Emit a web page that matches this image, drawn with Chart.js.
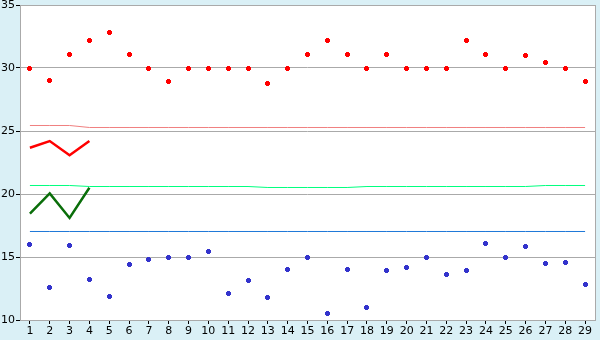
<!DOCTYPE html>
<html>
<head>
<meta charset="utf-8">
<script src="https://cdn.jsdelivr.net/npm/chart.js@4"></script>
<style>
  body { margin: 0; background: #daf0f6; }
  #wrap { width: 600px; height: 340px; }
</style>
</head>
<body>
<div id="wrap"><canvas id="chart" width="600" height="340"></canvas></div>
<script>
// Data
const categories = ['1','2','3','4','5','6','7','8','9','10','11','12','13','14','15','16','17','18','19','20','21','22','23','24','25','26','27','28','29'];
const yTicks = [10, 15, 20, 25, 30, 35];

const redPoints = [30.0, 29.0, 31.1, 32.2, 32.8, 31.1, 30.0, 28.9, 30.0, 30.0, 30.0, 30.0, 28.8, 30.0, 31.1, 32.2, 31.1, 30.0, 31.1, 30.0, 30.0, 30.0, 32.2, 31.1, 30.0, 31.0, 30.45, 30.0, 28.9];
const bluePoints = [16.0, 12.6, 15.93, 13.23, 11.88, 14.42, 14.81, 15.0, 15.0, 15.45, 12.12, 13.15, 11.8, 14.02, 15.0, 10.53, 14.02, 11.0, 13.94, 14.18, 15.0, 13.62, 13.94, 16.08, 15.0, 15.85, 14.5, 14.58, 12.83];

const upperLine = [25.437, 25.437, 25.437, 25.278, 25.278, 25.278, 25.278, 25.278, 25.278, 25.278, 25.278, 25.278, 25.278, 25.278, 25.278, 25.278, 25.278, 25.278, 25.278, 25.278, 25.278, 25.278, 25.278, 25.278, 25.278, 25.278, 25.278, 25.278, 25.278];
const middleLine = [20.675, 20.675, 20.675, 20.595, 20.595, 20.595, 20.595, 20.595, 20.595, 20.595, 20.595, 20.595, 20.516, 20.516, 20.516, 20.516, 20.516, 20.595, 20.595, 20.595, 20.595, 20.595, 20.595, 20.595, 20.595, 20.595, 20.675, 20.675, 20.675];
const lowerLine = [17.024, 17.024, 17.024, 17.024, 17.024, 17.024, 17.024, 17.024, 17.024, 17.024, 17.024, 17.024, 17.024, 17.024, 17.024, 17.024, 17.024, 17.024, 17.024, 17.024, 17.024, 17.024, 17.024, 17.024, 17.024, 17.024, 17.024, 17.024, 17.024];

const redTrend = [23.67, 24.2, 23.07, 24.2];
const greenTrend = [18.44, 20.05, 18.1, 20.5];

// small fat-plus marker, 5x5 with the corners cut
function makeMarker(color) {
    const c = document.createElement('canvas');
    c.width = 5;
    c.height = 5;
    const g = c.getContext('2d');
    g.fillStyle = color;
    g.fillRect(1, 0, 3, 5);
    g.fillRect(0, 1, 5, 3);
    return c;
}

// white plot area + grey frame
const plotFrame = {
    id: 'plotFrame',
    beforeDraw(chart) {
        const a = chart.chartArea;
        const ctx = chart.ctx;
        ctx.save();
        ctx.fillStyle = '#ffffff';
        ctx.fillRect(a.left, a.top, a.right - a.left, a.bottom - a.top);
        ctx.restore();
    },
    beforeDatasetsDraw(chart) {
        chart.ctx.imageSmoothingEnabled = false;
    },
    afterDatasetsDraw(chart) {
        const a = chart.chartArea;
        const ctx = chart.ctx;
        ctx.save();
        ctx.strokeStyle = '#aaaaaa';
        ctx.lineWidth = 1;
        ctx.strokeRect(a.left + 0.5, a.top + 0.5, a.right - a.left, a.bottom - a.top);
        ctx.restore();
    }
};

function flatLine(data, color, width) {
    return {
        type: 'line',
        data: data,
        borderColor: color,
        borderWidth: width,
        pointRadius: 0,
        tension: 0,
        fill: false
    };
}

function dots(data, color) {
    return {
        type: 'line',
        data: data,
        showLine: false,
        pointStyle: makeMarker(color),
        pointRadius: 3
    };
}

new Chart(document.getElementById('chart'), {
    type: 'line',
    data: {
        labels: categories,
        datasets: [
            flatLine(upperLine, '#f08080', 1),
            flatLine(middleLine, '#00ff7f', 1),
            flatLine(lowerLine, '#1e78d8', 1),
            flatLine(redTrend, '#ff0000', 2.5),
            flatLine(greenTrend, '#0a6e0a', 2.5),
            dots(redPoints, '#ff0000'),
            dots(bluePoints, '#3333cc')
        ]
    },
    options: {
        responsive: false,
        animation: false,
        layout: { padding: { top: 5, right: 5, left: 0, bottom: 0 } },
        plugins: {
            legend: { display: false },
            tooltip: { enabled: false }
        },
        scales: {
            x: {
                offset: true,
                grid: {
                    drawOnChartArea: false,
                    tickColor: '#000000',
                    tickLength: 4,
                    offset: false
                },
                border: { display: false },
                ticks: {
                    color: '#000000',
                    font: { family: 'DejaVu Sans', size: 11 },
                    padding: 1,
                    maxRotation: 0,
                    autoSkip: false
                },
                afterFit(scale) {
                    scale.height = 20;
                    scale.paddingLeft = 0;
                    scale.paddingRight = 0;
                }
            },
            y: {
                min: 10,
                max: 35,
                afterBuildTicks(scale) {
                    scale.ticks = yTicks.map(v => ({ value: v }));
                },
                grid: {
                    color: '#aaaaaa',
                    lineWidth: 1,
                    tickColor: '#000000',
                    tickLength: 4
                },
                border: { display: false },
                ticks: {
                    color: '#000000',
                    font: { family: 'DejaVu Sans', size: 11 },
                    padding: 1
                },
                afterFit(scale) {
                    scale.width = 20;
                    scale.paddingTop = 0;
                    scale.paddingBottom = 0;
                }
            }
        }
    },
    plugins: [plotFrame]
});
</script>
</body>
</html>
